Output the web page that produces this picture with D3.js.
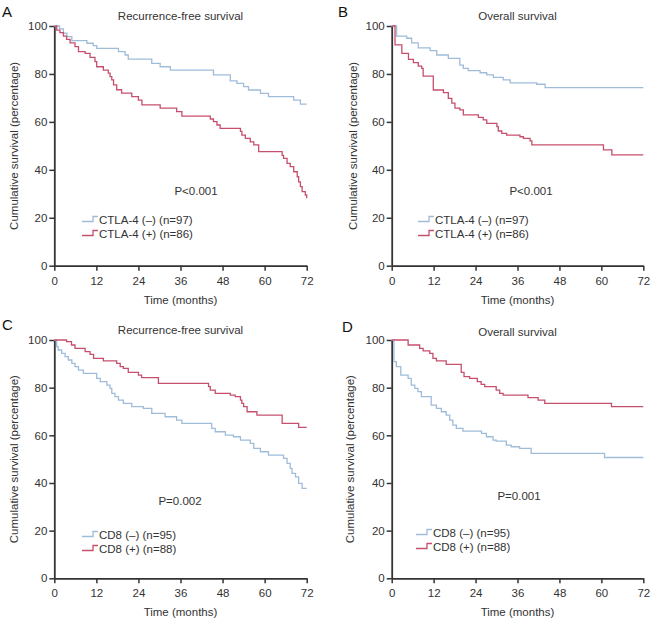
<!DOCTYPE html>
<html>
<head>
<meta charset="utf-8">
<script src="https://cdn.jsdelivr.net/npm/d3@7"></script>
<style>
  html, body { margin: 0; padding: 0; background: #fff; }
  svg text { font-family: "Liberation Sans", Arial, Helvetica, sans-serif; fill: #333; }
</style>
</head>
<body>
<svg id="chart" width="652" height="624"></svg>
<script>
// ---------- DATA (time in months, cumulative survival in %) ----------
const monthTicks = [0, 12, 24, 36, 48, 60, 72];
const survivalTicks = [0, 20, 40, 60, 80, 100];
const panelLetters = ["A", "B", "C", "D"];
const panelTitles = ["Recurrence-free survival", "Overall survival", "Recurrence-free survival", "Overall survival"];
const pValues = ["P<0.001", "P<0.001", "P=0.002", "P=0.001"];
const legendNeg = ["CTLA-4 (\u2013) (n=97)", "CTLA-4 (\u2013) (n=97)", "CD8 (\u2013) (n=95)", "CD8 (\u2013) (n=95)"];
const legendPos = ["CTLA-4 (+) (n=86)", "CTLA-4 (+) (n=86)", "CD8 (+) (n=88)", "CD8 (+) (n=88)"];

// A: RFS by CTLA-4
const rfsCtlaNeg = [[0,100],[1.5,98.8],[2.6,97.0],[3.6,95.6],[5.0,93.9],[9.3,92.8],[11.1,91.8],[12.1,90.7],[18.3,89.3],[20.2,87.9],[21.1,86.2],[27.8,84.4],[30.2,83.0],[33.1,81.6],[45.4,79.6],[50.2,77.1],[52.1,76.1],[54.0,74.7],[55.4,73.3],[58.8,71.9],[61.1,70.5],[68.3,69.1],[70.2,67.4],[72,67.4]];
const rfsCtlaPos = [[0,100],[0.7,98.3],[1.6,97.2],[2.6,95.8],[3.5,94.4],[4.5,93.0],[5.9,91.4],[6.9,89.3],[8.8,88.6],[10.2,86.9],[11.6,85.1],[12.1,83.0],[14.0,81.6],[15.4,80.3],[15.9,78.9],[16.4,77.5],[16.9,75.4],[17.8,73.4],[19.2,72.0],[22.1,70.5],[24.0,69.1],[25.0,67.1],[30.2,65.7],[34.9,64.3],[36.4,62.4],[44.5,61.2],[45.4,60.1],[46.4,58.7],[47.3,57.3],[53.1,56.0],[53.5,54.5],[54.5,53.1],[55.9,51.7],[56.9,50.4],[58.3,47.6],[65.0,46.0],[65.4,44.8],[66.4,42.7],[67.3,41.3],[68.3,39.2],[69.3,37.1],[69.7,35.0],[70.2,33.0],[70.7,30.9],[71.6,29.5],[72,28.1]];
// B: OS by CTLA-4
const osCtlaNeg = [[0,100],[1.4,95.8],[4.3,94.9],[5.7,93.0],[7.6,90.9],[11.0,89.7],[12.9,87.9],[16.2,86.5],[19.5,83.7],[20.5,82.3],[21.9,81.4],[25.3,80.5],[27.2,79.6],[29.1,78.6],[31.9,77.5],[33.9,76.3],[41.5,75.7],[43.9,74.3],[72,74.3]];
const osCtlaPos = [[0,100],[0.95,92.1],[2.9,88.6],[4.8,86.1],[6.2,84.7],[7.6,83.3],[8.6,82.3],[9.0,79.1],[11.9,73.3],[14.8,72.2],[16.2,69.8],[17.2,67.8],[18.1,65.7],[19.5,65.0],[20.5,62.9],[24.8,61.9],[26.2,60.8],[27.2,59.4],[30.1,58.0],[30.5,56.2],[31.5,55.2],[32.9,54.5],[36.7,53.8],[37.7,53.1],[39.6,52.1],[40.1,50.4],[60.6,48.3],[63.0,46.2],[72,46.2]];
// C: RFS by CD8
const rfsCd8Neg = [[0,100],[0.67,97.2],[1.1,95.8],[2.1,94.4],[3.1,93.0],[4.0,91.6],[5.0,90.2],[5.9,88.8],[6.9,87.4],[8.3,86.0],[12.1,83.9],[13.1,82.5],[15.0,81.1],[15.9,79.7],[16.4,77.6],[17.3,76.2],[18.3,74.8],[19.7,73.4],[22.1,72.0],[25.4,71.3],[27.8,69.2],[31.6,67.8],[34.9,66.4],[36.4,65.0],[44.9,62.9],[45.9,61.5],[48.8,60.1],[51.1,59.4],[53.1,58.0],[55.9,56.6],[56.9,54.5],[58.8,53.1],[61.1,51.7],[65.4,50.3],[66.4,48.2],[67.3,46.1],[67.8,44.0],[68.8,42.6],[69.7,39.8],[70.7,37.7],[72,37.7]];
const rfsCd8Pos = [[0,100],[3.5,99.3],[4.9,97.9],[5.9,96.5],[8.8,95.1],[10.2,94.0],[11.2,92.3],[14.0,91.2],[17.8,90.2],[18.8,88.8],[19.7,88.1],[21.1,86.4],[24.0,85.3],[24.9,84.2],[29.7,81.8],[44.0,80.4],[44.5,79.0],[45.9,77.6],[50.2,76.9],[51.6,76.2],[53.1,74.8],[53.5,73.4],[54.0,72.0],[55.0,69.9],[57.8,68.5],[65.0,65.0],[69.7,63.3],[72,63.3]];
// D: OS by CD8
const osCd8Neg = [[0,100],[0.65,90.9],[1.33,88.8],[2.6,85.3],[4.7,83.9],[5.6,81.1],[6.6,79.7],[7.5,78.3],[8.5,76.2],[11.3,72.7],[12.8,71.3],[14.2,69.9],[15.6,68.5],[16.6,66.4],[17.5,64.3],[18.5,62.9],[20.4,61.8],[25.7,60.8],[27.1,59.4],[29.0,58.0],[29.9,57.6],[32.8,55.9],[34.2,55.2],[36.6,54.5],[39.9,52.4],[60.9,50.7],[72,50.7]];
const osCd8Pos = [[0,100],[4.7,97.9],[8.0,96.5],[9.0,95.4],[10.9,94.4],[11.8,92.3],[12.8,91.2],[15.6,89.8],[19.9,86.4],[20.7,84.6],[22.3,83.9],[24.5,82.5],[25.6,81.4],[26.6,80.4],[29.9,79.0],[30.9,77.6],[31.9,76.9],[39.0,75.8],[41.9,74.8],[43.8,73.4],[62.9,72.0],[72,72.0]];

const negSeries = [rfsCtlaNeg, osCtlaNeg, rfsCd8Neg, osCd8Neg];
const posSeries = [rfsCtlaPos, osCtlaPos, rfsCd8Pos, osCd8Pos];

// ---------- LAYOUT ----------
const NEG_COLOR = "#9fbcd9";
const POS_COLOR = "#c64f6d";
const AXIS_COLOR = "#333";
const FONT = 11.5;

const panels = [
  { x0: 54.3,  x1: 306.7, y0: 265.7, y1: 26,  letterX: 2,   letterY: 17,  titleY: 20,  yTitleX: 14,  pX: 196, pY: 195, legX: 82,  legY: 222 },
  { x0: 391.7, x1: 643.3, y0: 265.7, y1: 26,  letterX: 338, letterY: 17,  titleY: 20,  yTitleX: 353, pX: 531, pY: 195, legX: 418, legY: 222 },
  { x0: 54.3,  x1: 306.7, y0: 578.3, y1: 340, letterX: 2,   letterY: 330, titleY: 334, yTitleX: 14,  pX: 180, pY: 505, legX: 82,  legY: 537 },
  { x0: 391.7, x1: 643.3, y0: 578.3, y1: 340, letterX: 342, letterY: 332, titleY: 336, yTitleX: 350, pX: 519, pY: 500, legX: 416, legY: 535 }
];

const svg = d3.select("#chart");

panels.forEach((p, i) => {
  const g = svg.append("g");
  const x = d3.scaleLinear().domain([0, 72]).range([p.x0, p.x1]);
  const y = d3.scaleLinear().domain([0, 100]).range([p.y0, p.y1]);

  // panel letter
  g.append("text").attr("x", p.letterX).attr("y", p.letterY)
    .attr("font-size", 15).style("fill", "#111").text(panelLetters[i]);

  // title
  g.append("text").attr("x", (p.x0 + p.x1) / 2).attr("y", p.titleY)
    .attr("text-anchor", "middle").attr("font-size", FONT).text(panelTitles[i]);

  // axes
  const yAxis = d3.axisLeft(y).tickValues(survivalTicks).tickSize(5).tickSizeOuter(0).tickPadding(2);
  const xAxis = d3.axisBottom(x).tickValues(monthTicks).tickSize(5).tickSizeOuter(0).tickPadding(6);

  const gy = g.append("g").attr("transform", `translate(${p.x0},0)`).call(yAxis);
  const gx = g.append("g").attr("transform", `translate(0,${p.y0})`).call(xAxis);
  [gx, gy].forEach(a => {
    a.select(".domain").attr("stroke", AXIS_COLOR).attr("stroke-width", 1.8);
    a.selectAll(".tick line").attr("stroke", AXIS_COLOR).attr("stroke-width", 1.5);
    a.selectAll(".tick text").attr("font-size", FONT).attr("font-family", "Liberation Sans, Arial, sans-serif").style("fill", "#333");
  });

  // axis titles
  g.append("text").attr("x", (p.x0 + p.x1) / 2).attr("y", p.y0 + 38)
    .attr("text-anchor", "middle").attr("font-size", FONT).text("Time (months)");
  g.append("text")
    .attr("transform", `translate(${p.yTitleX},${(p.y0 + p.y1) / 2}) rotate(-90)`)
    .attr("text-anchor", "middle").attr("dy", "0.35em").attr("font-size", FONT)
    .text("Cumulative survival (percentage)");

  // curves
  const line = d3.line().x(d => x(d[0])).y(d => y(d[1])).curve(d3.curveStepAfter);
  g.append("path").datum(negSeries[i]).attr("d", line)
    .attr("fill", "none").attr("stroke", NEG_COLOR).attr("stroke-width", 1.3);
  g.append("path").datum(posSeries[i]).attr("d", line)
    .attr("fill", "none").attr("stroke", POS_COLOR).attr("stroke-width", 1.3);

  // p-value
  g.append("text").attr("x", p.pX).attr("y", p.pY).attr("text-anchor", "middle")
    .attr("font-size", FONT).text(pValues[i]);

  // legend
  const legItems = [[legendNeg[i], NEG_COLOR], [legendPos[i], POS_COLOR]];
  legItems.forEach((it, k) => {
    const by = p.legY + k * 14;
    const sym = d3.path();
    sym.moveTo(p.legX, by - 0.5);
    sym.lineTo(p.legX + 11, by - 0.5);
    sym.lineTo(p.legX + 11, by - 5.5);
    sym.lineTo(p.legX + 16, by - 5.5);
    g.append("path").attr("d", sym.toString()).attr("fill", "none")
      .attr("stroke", it[1]).attr("stroke-width", 1.3);
    g.append("text").attr("x", p.legX + 17).attr("y", by + 1.5)
      .attr("font-size", FONT).text(it[0]);
  });
});
</script>
</body>
</html>
